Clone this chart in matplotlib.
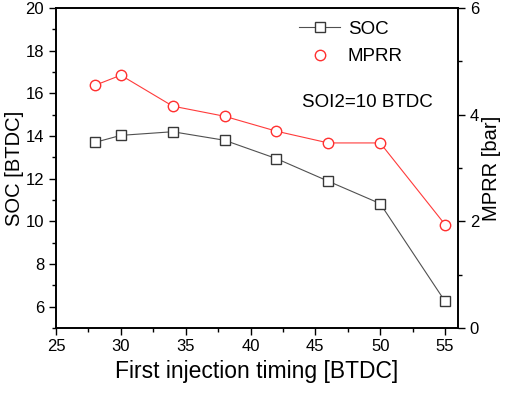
import numpy as np
import matplotlib
matplotlib.use("Agg")
import matplotlib.pyplot as plt
from matplotlib.ticker import MultipleLocator
from matplotlib.lines import Line2D

plt.rcParams['font.family'] = ['Liberation Sans', 'DejaVu Sans']

timing = [28, 30, 34, 38, 42, 46, 50, 55]
soc = [13.7, 14.03, 14.2, 13.8, 12.94, 11.88, 10.83, 6.25]
mprr = [4.55, 4.74, 4.16, 3.97, 3.69, 3.47, 3.47, 1.94]

fig = plt.figure(figsize=(5.05, 3.93), dpi=100)
ax = fig.add_axes([56 / 505, 1 - 328 / 393, (458 - 56) / 505, (328 - 8) / 393])
ax2 = ax.twinx()

l1, = ax.plot(timing, soc, color='#505050', lw=0.8, marker='s', ms=7,
              mfc='white', mec='#383838', mew=1.0, label='SOC')
l2, = ax2.plot(timing, mprr, color='#ff3b3b', lw=0.8, marker='o', ms=7.5,
               mfc='white', mec='#ff3030', mew=1.0, label='MPRR')

ax.set_xlim(25, 56)
ax.set_ylim(5, 20)
ax2.set_ylim(0, 6)

ax.xaxis.set_major_locator(MultipleLocator(5))
ax.xaxis.set_minor_locator(MultipleLocator(2.5))
ax.yaxis.set_major_locator(MultipleLocator(2))
ax.yaxis.set_minor_locator(MultipleLocator(1))
ax2.yaxis.set_major_locator(MultipleLocator(2))
ax2.yaxis.set_minor_locator(MultipleLocator(1))

for a in (ax, ax2):
    a.tick_params(which='major', direction='out', length=5, width=1.0, labelsize=12)
    a.tick_params(which='minor', direction='out', length=3, width=1.0)
    for s in a.spines.values():
        s.set_linewidth(1.2)
ax.tick_params(axis='x', pad=3)

ax.set_xlabel('First injection timing [BTDC]', fontsize=16.5, labelpad=4)
ax.set_ylabel('SOC [BTDC]', fontsize=14.5, labelpad=1)
ax2.set_ylabel('MPRR [bar]', fontsize=14.5, labelpad=2)

h2 = Line2D([], [], ls='none', marker='o', ms=7.5, mfc='white', mec='#ff3030', mew=1.0)
ax.legend([l1, h2], ['SOC', 'MPRR'], loc='upper left', bbox_to_anchor=(0.605, 0.96),
          frameon=False, fontsize=13.5, handlelength=2.2, handletextpad=0.4,
          labelspacing=0.55, borderpad=0, borderaxespad=0)

ax.text(0.612, 0.69, 'SOI2=10 BTDC', transform=ax.transAxes, fontsize=13.5)

fig.savefig('out.png', dpi=100)
